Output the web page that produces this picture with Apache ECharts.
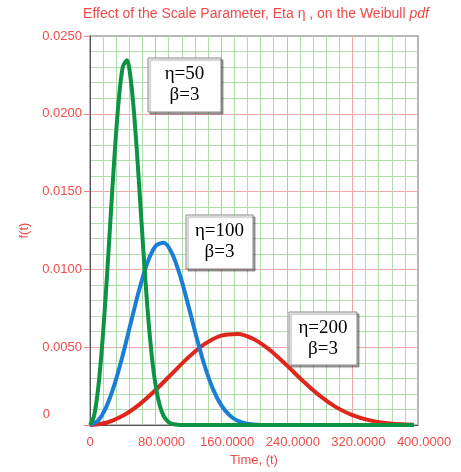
<!DOCTYPE html>
<html>
<head>
<meta charset="utf-8">
<script src="https://cdn.jsdelivr.net/npm/echarts@6/dist/echarts.min.js"></script>
<style>
  html, body { margin: 0; padding: 0; background: #fff; }
  #chart { width: 461px; height: 472px; }
</style>
</head>
<body>
<div id="chart"></div>
<script>
// values (Weibull pdf, beta = 3)
const tEta50 = [0, 5, 10, 15, 20, 25, 30, 35, 40, 45, 50, 55, 60, 65, 70, 75, 80, 85, 90, 95, 100, 110, 120, 395]
const fEta50 = [0, 0.0006, 0.00238, 0.00526, 0.0090, 0.01324, 0.0174, 0.02086, 0.02301, 0.02344, 0.02207, 0.01918, 0.01535, 0.01127, 0.00756, 0.00462, 0.00256, 0.00127, 0.00057, 0.00023, 0.00008, 0.00001, 0, 0]

const tEta100 = [0, 10, 20, 30, 40, 50, 60, 70, 80, 90, 100, 110, 120, 130, 140, 150, 160, 170, 180, 190, 200, 210, 220, 395]
const fEta100 = [0, 0.0003, 0.00119, 0.00263, 0.0045, 0.00662, 0.0087, 0.01043, 0.01151, 0.01172, 0.01104, 0.00959, 0.00767, 0.00563, 0.00378, 0.00231, 0.00128, 0.00064, 0.00028, 0.00011, 0.00004, 0.00001, 0, 0]

const tEta200 = [0, 20, 40, 60, 80, 100, 120, 140, 160, 180, 200, 220, 240, 260, 280, 300, 320, 340, 360, 380, 395]
const fEta200 = [0, 0.00015, 0.000595, 0.001314, 0.002251, 0.003309, 0.004351, 0.005216, 0.005753, 0.005861, 0.005518, 0.004795, 0.003836, 0.002816, 0.00189, 0.001155, 0.000639, 0.000319, 0.000142, 0.000057, 0.00003]

const xMax = 400
const xStep = 80
const yMax = 0.025
const yStep = 0.005

const labelRed = '#f04a4a'

const pairs = (xs, ys) => xs.map((x, i) => [x, ys[i]])

const chart = echarts.init(document.getElementById('chart'))

// annotation boxes
const box = (x, y, w, h, eta) => ({
  type: 'group',
  z: 100,
  children: [
    {
      type: 'rect',
      z: 100,
      shape: { x: x, y: y, width: w, height: h },
      style: { fill: '#fff', stroke: '#888', lineWidth: 1, shadowColor: 'rgba(0,0,0,0.35)', shadowOffsetX: 2, shadowOffsetY: 2, shadowBlur: 1 }
    },
    {
      type: 'text',
      z: 101,
      x: x + w / 2,
      y: y + h / 2,
      style: {
        text: 'η=' + eta + '\nβ=3',
        fontFamily: 'Liberation Serif',
        fontSize: 19,
        lineHeight: 21,
        fill: '#000',
        align: 'center',
        verticalAlign: 'middle'
      }
    }
  ]
})

chart.setOption({
  animation: false,
  title: {
    text: 'Effect of the Scale Parameter, Eta η , on the Weibull {i|pdf}',
    left: 251,
    top: 2,
    textAlign: 'center',
    textStyle: {
      color: labelRed,
      fontFamily: 'Liberation Sans',
      fontSize: 14,
      fontWeight: 'normal',
      rich: { i: { color: labelRed, fontFamily: 'Liberation Sans', fontSize: 14, fontStyle: 'italic' } }
    }
  },
  grid: { left: 90, right: 43, top: 36, bottom: 40, show: true, borderColor: '#a0a0a0', borderWidth: 1.5 },
  xAxis: {
    type: 'value',
    min: 0,
    max: xMax,
    interval: xStep,
    name: 'Time, (t)',
    nameLocation: 'middle',
    nameGap: 24,
    nameTextStyle: { color: labelRed, fontFamily: 'Liberation Sans', fontSize: 13 },
    axisLine: { lineStyle: { color: '#555', width: 1 } },
    axisTick: { show: false },
    axisLabel: {
      color: labelRed,
      fontFamily: 'Liberation Sans',
      fontSize: 13,
      margin: 11,
      formatter: v => v === 0 ? '0' : '{a|' + v.toFixed(4) + '}',
      rich: { a: { color: labelRed, fontFamily: 'Liberation Sans', fontSize: 13, padding: [0, 0, 0, 12] } }
    },
    splitLine: { show: true, showMaxLine: false, lineStyle: { color: '#f5a8a8', width: 1 } },
    minorTick: { show: false, splitNumber: 5 },
    minorSplitLine: { show: true, lineStyle: { color: '#b0deaa', width: 1 } }
  },
  yAxis: {
    type: 'value',
    min: 0,
    max: yMax,
    interval: yStep,
    name: 'f(t)',
    nameLocation: 'middle',
    nameGap: 56,
    nameTextStyle: { color: labelRed, fontFamily: 'Liberation Sans', fontSize: 13 },
    axisLine: { show: true, lineStyle: { color: '#555', width: 1 } },
    axisTick: { show: true, length: 6, lineStyle: { color: '#f08080' } },
    axisLabel: {
      color: labelRed,
      fontFamily: 'Liberation Sans',
      fontSize: 13,
      margin: 8,
      formatter: v => v === 0 ? '{z|0}' : v.toFixed(4),
      rich: { z: { color: labelRed, fontFamily: 'Liberation Sans', fontSize: 13, padding: [0, 32, 21, 0] } }
    },
    splitLine: { show: true, showMaxLine: false, lineStyle: { color: '#f5a8a8', width: 1 } },
    minorTick: { show: false, splitNumber: 5 },
    minorSplitLine: { show: true, lineStyle: { color: '#b0deaa', width: 1 } }
  },
  series: [
    {
      type: 'line',
      data: pairs(tEta200, fEta200),
      smooth: 0.3,
      symbol: 'none',
      lineStyle: { color: '#e0261c', width: 4 }
    },
    {
      type: 'line',
      data: pairs(tEta100, fEta100),
      smooth: 0.3,
      symbol: 'none',
      lineStyle: { color: '#1a7fd4', width: 4 }
    },
    {
      type: 'line',
      data: pairs(tEta50, fEta50),
      smooth: 0.3,
      symbol: 'none',
      lineStyle: { color: '#0c9444', width: 4 }
    }
  ],
  graphic: [
    box(148, 58, 73, 54, 50),
    box(186, 215, 67, 54, 100),
    box(289, 312, 68, 53, 200)
  ]
})
</script>
</body>
</html>
